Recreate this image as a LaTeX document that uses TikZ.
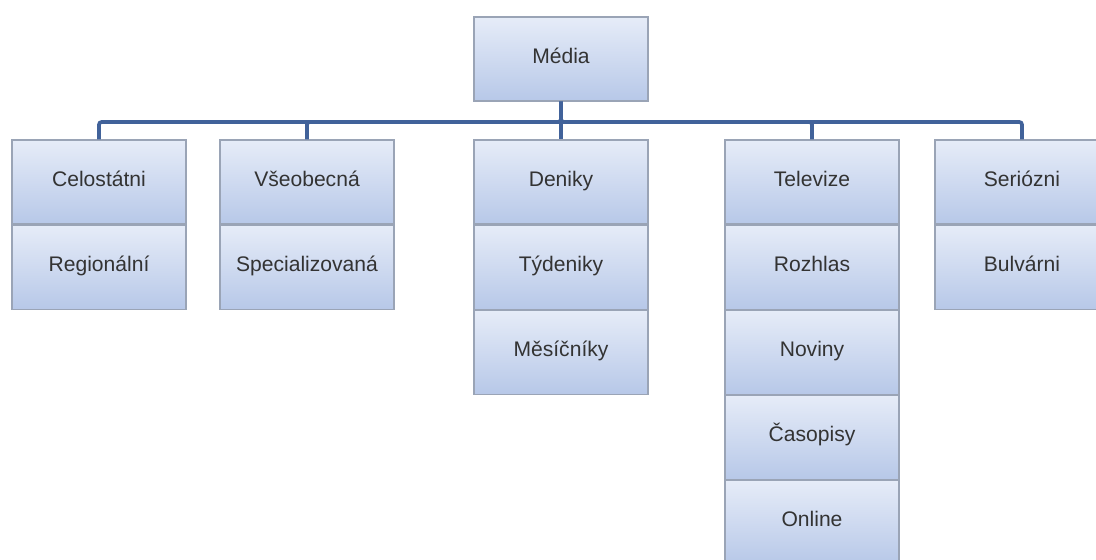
\documentclass[tikz,border=0pt]{standalone}
\usepackage{fontspec}
\setmainfont{Liberation Sans}
\usetikzlibrary{positioning,shadows}
\definecolor{boxtop}{HTML}{E6ECF8}
\definecolor{boxbot}{HTML}{B7C8E8}
\definecolor{boxline}{HTML}{9AA4B6}
\definecolor{linkblue}{HTML}{41629A}
\definecolor{labelgray}{HTML}{333333}
\tikzset{
  item/.style={draw=boxline, line width=0.6pt, top color=boxtop, bottom color=boxbot,
    minimum width=3.48cm, minimum height=1.68cm, inner sep=0pt,
    text height=0.72em, text depth=0.2em,
    font=\fontsize{12}{14}\selectfont, text=labelgray,
    drop shadow={shadow xshift=0.8pt, shadow yshift=-0.8pt, opacity=0.35, fill=black!45}},
  link/.style={draw=linkblue, line width=2.1pt, rounded corners=1.5pt}
}
\begin{document}
\begin{tikzpicture}[x=0.02cm, y=-0.02cm, node distance=0pt]
   \useasboundingbox (0,0) rectangle (1096,559);
   \node[item] (media) at (561,59) {Média};
   \coordinate (bar) at (0,122);
   % top row of categories
   \foreach \n/\x/\t in
     { celo/99/Celostátni,
       vseo/307/Všeobecná,
       deni/561/Deniky,
       tele/812/Televize,
       seri/1022/Seriózni
     }
     \node[item] (\n) at (\x,182) {\t};
   % stacked members
   \foreach \a/\b/\t in
     { celo/regi/Regionální,
       vseo/spec/Specializovaná,
       deni/tyde/Týdeniky,
       tyde/mesi/Měsíčníky,
       tele/rozh/Rozhlas,
       rozh/novi/Noviny,
       novi/caso/Časopisy,
       caso/onli/Online,
       seri/bulv/Bulvárni
     }
     \node[item, below=of \a] (\b) {\t};
   % connectors
   \foreach \n in {celo,vseo,deni,tele,seri}
     \draw[link] (media.south) -- (media.south |- bar) -| (\n.north);
\end{tikzpicture}
\end{document}
